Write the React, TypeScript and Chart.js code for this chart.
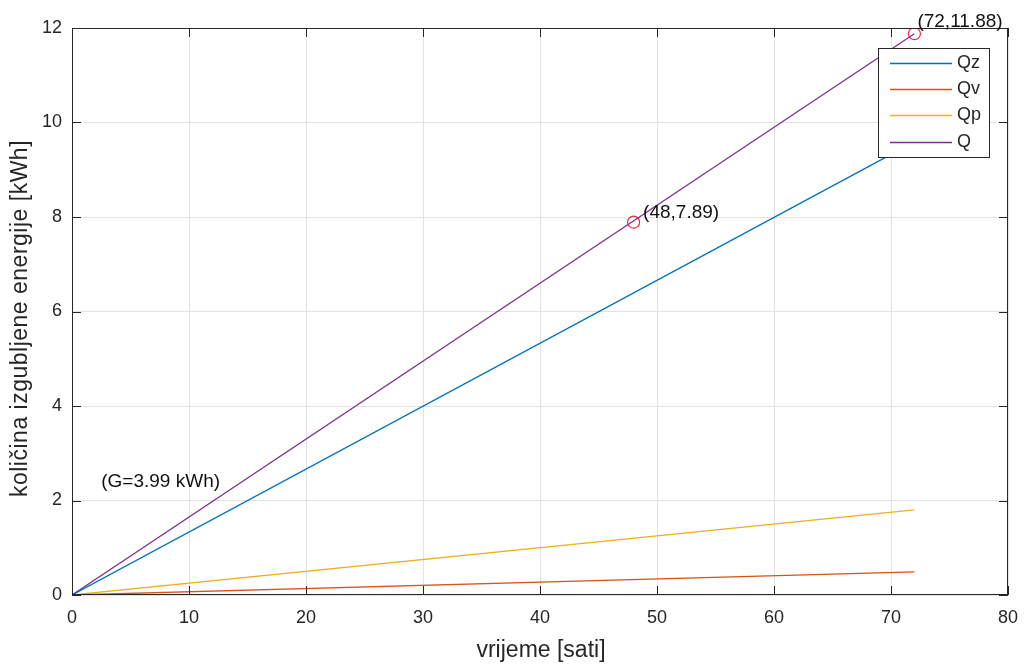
import React, { useEffect, useRef } from "react";
import { Chart, registerables } from "chart.js";

Chart.register(...registerables);

// ---- data ----
const hours = [0, 72];
const qzValues = [0, 9.59];
const qvValues = [0, 0.49];
const qpValues = [0, 1.8];
const qValues = [0, 11.88];
const markerHours = [48, 72];
const markerValues = [7.89, 11.88];
const seriesNames = ["Qz", "Qv", "Qp", "Q"];
const seriesColors = ["#0072BD", "#D95319", "#EDB120", "#7E2F8E"];
const xTickValues = [0, 10, 20, 30, 40, 50, 60, 70, 80];
const yTickValues = [0, 2, 4, 6, 8, 10, 12];
const xTitle = "vrijeme [sati]";
const yTitle = "količina izgubljene energije [kWh]";
const annotationTexts = ["(48,7.89)", "(72,11.88)", "(G=3.99 kWh)"];
const annotationX = [48, 72, 2.5];
const annotationY = [7.89, 11.88, 2.4];

const FONT = "'Liberation Sans', Arial, Helvetica, sans-serif";
const AXIS = "#262626";

const overlayPlugin = {
  id: "overlay",
  afterDatasetsDraw(chart: any) {
    const { ctx, chartArea: a, scales } = chart;
    const x = scales.x;
    const y = scales.y;
    ctx.save();

    // axes box
    ctx.strokeStyle = AXIS;
    ctx.lineWidth = 1;
    ctx.strokeRect(Math.round(a.left) + 0.5, Math.round(a.top) + 0.5, Math.round(a.width) - 1, Math.round(a.height) - 1);

    // inward tick marks on all four sides
    const tl = 9;
    ctx.beginPath();
    xTickValues.forEach((v) => {
      const px = Math.round(x.getPixelForValue(v)) + 0.5;
      ctx.moveTo(px, a.bottom);
      ctx.lineTo(px, a.bottom - tl);
      ctx.moveTo(px, a.top);
      ctx.lineTo(px, a.top + tl);
    });
    yTickValues.forEach((v) => {
      const py = Math.round(y.getPixelForValue(v)) + 0.5;
      ctx.moveTo(a.left, py);
      ctx.lineTo(a.left + tl, py);
      ctx.moveTo(a.right, py);
      ctx.lineTo(a.right - tl, py);
    });
    ctx.stroke();

    // annotations
    const offsets = [
      [9.5, -9],
      [3, -12],
      [0, 0],
    ];
    ctx.fillStyle = "#111111";
    ctx.font = `19px ${FONT}`;
    ctx.textAlign = "left";
    ctx.textBaseline = "middle";
    annotationTexts.forEach((t, i) => {
      ctx.fillText(
        t,
        x.getPixelForValue(annotationX[i]) + offsets[i][0],
        y.getPixelForValue(annotationY[i]) + offsets[i][1]
      );
    });

    // legend
    const lw = 111;
    const lh = 109;
    const lx = Math.round(a.right) - 19 - lw;
    const ly = Math.round(a.top) + 20;
    ctx.fillStyle = "#ffffff";
    ctx.fillRect(lx, ly, lw, lh);
    ctx.strokeStyle = AXIS;
    ctx.lineWidth = 1;
    ctx.strokeRect(lx + 0.5, ly + 0.5, lw, lh);
    const rowY = [15, 41, 67, 94];
    ctx.font = `18px ${FONT}`;
    ctx.textBaseline = "middle";
    seriesNames.forEach((n, i) => {
      const yy = ly + rowY[i] + 0.5;
      ctx.strokeStyle = seriesColors[i];
      ctx.lineWidth = 1.3;
      ctx.beginPath();
      ctx.moveTo(lx + 12, yy);
      ctx.lineTo(lx + 74, yy);
      ctx.stroke();
      ctx.fillStyle = AXIS;
      ctx.fillText(n, lx + 79, yy);
    });

    // axis titles
    ctx.fillStyle = AXIS;
    ctx.font = `23px ${FONT}`;
    ctx.textAlign = "center";
    ctx.textBaseline = "alphabetic";
    ctx.fillText(xTitle, (a.left + a.right) / 2 + 1, 657);
    ctx.save();
    ctx.translate(27, (a.top + a.bottom) / 2 + 7);
    ctx.rotate(-Math.PI / 2);
    try {
      (ctx as any).letterSpacing = "0.5px";
    } catch (e) {}
    ctx.fillText(yTitle, 0, 0);
    ctx.restore();

    ctx.restore();
  },
};

export default function App() {
  const ref = useRef<HTMLCanvasElement | null>(null);

  useEffect(() => {
    if (!ref.current) return;
    const lineData = [qzValues, qvValues, qpValues, qValues];
    const datasets: any[] = lineData.map((vals, i) => ({
      type: "line",
      label: seriesNames[i],
      data: hours.map((h, j) => ({ x: h, y: vals[j] })),
      borderColor: seriesColors[i],
      backgroundColor: seriesColors[i],
      borderWidth: 1.3,
      pointRadius: 0,
      tension: 0,
      fill: false,
    }));
    datasets.push({
      type: "scatter",
      label: "markers",
      data: markerHours.map((h, j) => ({ x: h, y: markerValues[j] })),
      borderColor: "#ee2b47",
      backgroundColor: "rgba(0,0,0,0)",
      pointRadius: 6,
      pointBorderWidth: 1.2,
      showLine: false,
    });

    const chart = new Chart(ref.current, {
      type: "line",
      data: { datasets },
      options: {
        animation: false,
        responsive: false,
        maintainAspectRatio: false,
        devicePixelRatio: 1,
        layout: { padding: { top: 28, right: 18, left: 0, bottom: 0 } },
        plugins: {
          legend: { display: false },
          tooltip: { enabled: false },
          title: { display: false },
        },
        scales: {
          x: {
            type: "linear",
            min: 0,
            max: 80,
            afterFit: (s: any) => {
              s.height = 70;
              s.paddingLeft = 0;
              s.paddingRight = 0;
            },
            afterBuildTicks: (s: any) => {
              s.ticks = xTickValues.map((v) => ({ value: v }));
            },
            ticks: {
              font: { size: 18, family: FONT },
              color: AXIS,
              padding: 12,
              maxRotation: 0,
            },
            grid: { color: "#e2e2e2", drawTicks: false, lineWidth: 1 },
            border: { display: false },
          },
          y: {
            type: "linear",
            min: 0,
            max: 12,
            afterFit: (s: any) => {
              s.width = 72;
              s.paddingTop = 0;
              s.paddingBottom = 0;
            },
            afterBuildTicks: (s: any) => {
              s.ticks = yTickValues.map((v) => ({ value: v }));
            },
            ticks: {
              font: { size: 18, family: FONT },
              color: AXIS,
              padding: 10,
            },
            grid: { color: "#e2e2e2", drawTicks: false, lineWidth: 1 },
            border: { display: false },
          },
        },
      },
      plugins: [overlayPlugin],
    });
    return () => chart.destroy();
  }, []);

  return (
    <div style={{ position: "absolute", left: 0, top: 0, width: 1026, height: 665, background: "#fff" }}>
      <canvas ref={ref} width={1026} height={665} style={{ width: 1026, height: 665, display: "block" }} />
    </div>
  );
}
